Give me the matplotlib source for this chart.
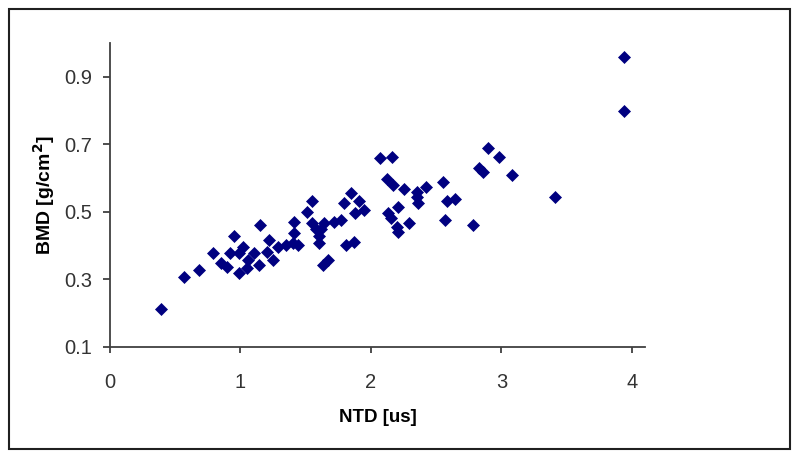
import matplotlib.pyplot as plt
from matplotlib.patches import Rectangle

# NTD [us] vs BMD [g/cm2]
ntd = [0.39, 0.57, 0.68, 0.79, 0.85, 0.90, 0.92, 0.95, 0.99, 1.02,
       0.99, 1.06, 1.10, 1.05, 1.14, 1.15, 1.20, 1.22,
       1.25, 1.29, 1.35, 1.40, 1.44, 1.41, 1.41, 1.51, 1.55,
       1.55, 1.58, 1.60, 1.62, 1.64, 1.60, 1.63, 1.67, 1.72, 1.77,
       1.79, 1.85, 1.91, 1.95, 1.88, 1.81, 1.87,
       2.07, 2.16, 2.12, 2.17, 2.25, 2.35, 2.35, 2.36, 2.42, 2.55,
       2.58, 2.64, 2.57, 2.13, 2.21, 2.15, 2.20, 2.29, 2.21,
       2.78, 2.83, 2.86, 2.90, 2.98, 3.08, 3.41, 3.94, 3.94]
bmd = [0.213, 0.307, 0.328, 0.379, 0.349, 0.337, 0.379, 0.429, 0.379, 0.396,
       0.319, 0.358, 0.379, 0.334, 0.343, 0.461, 0.381, 0.417,
       0.358, 0.396, 0.402, 0.408, 0.402, 0.470, 0.438, 0.500, 0.533,
       0.467, 0.450, 0.429, 0.450, 0.467, 0.408, 0.343, 0.358, 0.470, 0.476,
       0.527, 0.556, 0.533, 0.506, 0.497, 0.402, 0.411,
       0.660, 0.663, 0.598, 0.580, 0.568, 0.559, 0.544, 0.527, 0.574, 0.589,
       0.533, 0.539, 0.476, 0.497, 0.515, 0.482, 0.456, 0.467, 0.441,
       0.461, 0.630, 0.619, 0.690, 0.663, 0.610, 0.544, 0.957, 0.800]

x_ticks = [0, 1, 2, 3, 4]
y_ticks = [0.1, 0.3, 0.5, 0.7, 0.9]

plt.rcParams['font.family'] = ['Liberation Sans', 'DejaVu Sans']

fig = plt.figure(figsize=(8, 4.58), dpi=100)
ax = fig.add_axes([0.1375, 0.2424, 0.6688, 0.6638])

ax.plot(ntd, bmd, linestyle='none', marker='D', markersize=6,
        color='#000080', markeredgewidth=0.5)

ax.set_xlim(0, 4.1)
ax.set_ylim(0.1, 1.0)
ax.set_xticks(x_ticks)
ax.set_yticks(y_ticks)
ax.set_yticklabels([f'{v:.1f}' for v in y_ticks])

for side in ['top', 'right']:
    ax.spines[side].set_visible(False)
for side in ['left', 'bottom']:
    ax.spines[side].set_color('#404040')
    ax.spines[side].set_linewidth(1.3)

ax.tick_params(axis='x', direction='out', length=4, width=1.3, color='#404040',
               labelsize=14.5, labelcolor='#333333', pad=15)
ax.tick_params(axis='y', direction='out', length=5, width=1.3, color='#404040',
               labelsize=14.5, labelcolor='#333333', pad=8)

ax.set_xlabel('NTD [us]', fontsize=13.5, fontweight='bold', labelpad=12)
ax.set_ylabel('BMD [g/cm$^\\mathbf{2}$]', fontsize=14, fontweight='bold', labelpad=5)

# outer frame around the chart
fig.patches.append(Rectangle((9 / 800, 9 / 458), 781 / 800, 440 / 458,
                             transform=fig.transFigure, fill=False,
                             edgecolor='#202020', linewidth=1.5))

fig.savefig('out.png', dpi=100)
